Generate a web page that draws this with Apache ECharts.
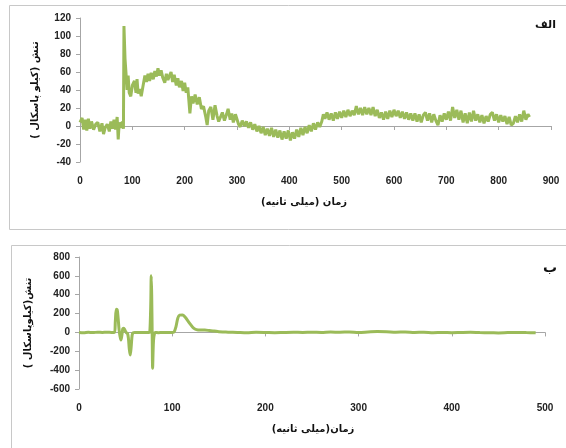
<!DOCTYPE html>
<html>
<head>
<meta charset="utf-8">
<script src="https://cdn.jsdelivr.net/npm/echarts@6/dist/echarts.min.js"></script>
<style>html,body{margin:0;padding:0;background:#fff}#c{width:566px;height:448px}</style>
</head>
<body>
<div id="c"></div>
<script>
// Panel A (top) : time in ms, stress in kPa
var timeA = [0,4,7,10,13,16,19,22,26,30,34,38,42,45,48,52,56,59,62,65,68,71,73,75,78,81,83,84,86,88,90,92,94,97,100,104,107,109,111,114,117,120,124,127,130,133,136,140,143,146,149,152,155,158,162,165,168,171,174,177,180,184,187,190,194,197,200,203,206,210,213,216,220,224,228,232,236,240,243,246,250,254,258,262,265,268,272,276,280,283,287,290,293,297,300,303,306,310,314,318,322,326,330,334,338,342,346,350,354,358,362,366,370,374,378,382,386,390,394,398,402,406,410,414,418,422,426,430,434,438,442,446,450,454,458,462,465,468,472,476,480,484,488,492,496,500,504,508,512,516,520,524,528,532,536,540,544,548,552,556,560,564,568,572,576,580,584,588,592,596,600,604,608,612,616,620,624,628,632,636,640,644,648,652,656,660,664,668,672,676,680,684,688,692,696,700,704,708,712,716,720,724,728,732,736,740,744,748,752,756,760,764,768,772,776,780,784,788,792,796,800,804,808,812,816,820,824,828,832,836,840,844,848,852,856,859];
var stressA = [4,9,-4,7,-5,8,-3,5,-4,2,4,-6,3,-9,-2,2,-6,5,-3,7,-4,10,-15,4,-2,5,-3,111,75,58,40,56,37,33,45,50,37,52,36,41,33,43,56,49,58,50,59,52,61,55,64,56,62,54,48,58,51,56,60,49,57,45,53,43,50,39,48,37,43,14,33,25,35,24,32,19,22,11,1,17,21,7,23,11,5,3,15,6,13,19,7,14,4,13,11,2,-1,6,0,5,-2,4,-4,2,-6,0,-8,-1,-10,-3,-11,-2,-12,-4,-13,-5,-15,-6,-14,-5,-16,-7,-14,-4,-12,-2,-10,-1,-8,1,-6,3,-4,4,-1,5,13,8,15,7,14,6,15,8,16,9,17,10,18,11,17,12,22,13,20,12,21,13,20,12,21,11,18,9,15,7,16,8,17,10,18,11,17,9,16,8,15,7,14,6,14,5,13,4,12,15,6,14,4,13,6,1,12,5,14,7,16,6,21,9,18,7,17,4,14,3,15,5,17,6,13,4,12,3,11,5,13,15,6,13,4,12,5,11,2,10,1,3,11,4,13,5,17,7,13,10];
var ticksA_x = {min: 0, max: 900, interval: 100};
var ticksA_y = {min: -40, max: 120, interval: 20};

// Panel B (bottom)
var timeB = [0,5,10,15,20,25,30,35,38,39,40,41,42,43,44,45,46,47,48,49,50,51,52,53,54,55,56,57,58,60,65,70,75,76,77,77.5,78,78.5,79,79.5,80,81,82,85,90,95,100,102,104,106,108,111,114,117,120,123,126,130,135,140,145,150,155,160,170,180,190,200,210,220,230,240,250,260,270,280,290,300,310,320,330,340,350,360,370,380,390,400,410,420,430,440,450,460,470,480,490];
var stressB = [0,-3,2,-2,3,0,2,0,2,120,245,240,150,30,-40,-80,-30,40,45,30,10,-5,-10,-60,-180,-240,-150,-30,-5,0,-2,0,0,5,300,600,400,0,-380,-200,-80,-10,0,-3,0,-2,0,5,60,150,183,185,160,120,80,45,30,25,25,20,15,8,5,3,0,-3,2,0,-3,0,2,0,3,0,4,2,5,0,5,10,8,3,5,0,3,-3,0,-3,0,2,-2,-4,-5,-2,0,-2,-3];
var ticksB_x = {min: 0, max: 500, interval: 100};
var ticksB_y = {min: -600, max: 800, interval: 200};

var titleX_A = '\u200Fزمان (میلی ثانیه)\u200F';
var titleY_A = '\u200Fتنش (کیلو پاسکال )\u200F';
var titleX_B = '\u200Fزمان(میلی ثانیه)\u200F';
var titleY_B = '\u200Fتنش(کیلوپاسکال )\u200F';
var panelA = 'الف';
var panelB = 'ب';

function pairs(t, v){ return t.map(function(x,i){ return [x, v[i]]; }); }

var GREEN = '#9BBB59';
var AXIS = '#a6a6a6';
var numFont = {fontFamily: 'Liberation Sans', fontWeight: 'bold', fontSize: 10, color: '#222'};
var faFont = 'DejaVu Sans';

function labelAxis(grid, t){
  return {type:'value', gridIndex:grid, min:t.min, max:t.max, interval:t.interval, position:'bottom',
    axisLine:{show:false, onZero:false}, axisTick:{show:false}, splitLine:{show:false},
    axisLabel:Object.assign({margin:14}, numFont)};
}
function lineAxis(grid, t){
  return {type:'value', gridIndex:grid, min:t.min, max:t.max, interval:t.interval, position:'bottom',
    axisLine:{show:true, onZero:true, lineStyle:{color:AXIS, width:1}},
    axisTick:{show:true, length:4, lineStyle:{color:AXIS}}, splitLine:{show:false}, axisLabel:{show:false}};
}
function yAx(grid, t, name, gap){
  return {type:'value', gridIndex:grid, min:t.min, max:t.max, interval:t.interval,
    name:name, nameLocation:'middle', nameGap:gap, nameRotate:90,
    nameTextStyle:{fontFamily:faFont, fontWeight:'bold', fontSize:10, color:'#111'},
    axisLine:{show:true, lineStyle:{color:AXIS, width:1}},
    axisTick:{show:true, length:4, lineStyle:{color:AXIS}}, splitLine:{show:false},
    axisLabel:Object.assign({margin:9}, numFont)};
}

var chart = echarts.init(document.getElementById('c'), null, {renderer:'canvas'});
chart.setOption({
  animation:false,
  backgroundColor:'#fff',
  grid:[
    {left:80, top:18, width:471, height:144},
    {left:79, top:257, width:466, height:132}
  ],
  xAxis:[labelAxis(0,ticksA_x), lineAxis(0,ticksA_x), labelAxis(1,ticksB_x), lineAxis(1,ticksB_x)],
  yAxis:[yAx(0,ticksA_y,titleY_A,40), yAx(1,ticksB_y,titleY_B,46)],
  series:[
    {type:'line', xAxisIndex:0, yAxisIndex:0, data:pairs(timeA,stressA), showSymbol:false,
     lineStyle:{color:GREEN, width:3}, itemStyle:{color:GREEN}},
    {type:'line', xAxisIndex:2, yAxisIndex:1, data:pairs(timeB,stressB), showSymbol:false, smooth:0.3,
     lineStyle:{color:GREEN, width:3}, itemStyle:{color:GREEN}}
  ],
  graphic:[
    {type:'rect', shape:{x:9.5, y:5.5, width:700, height:224}, style:{fill:'none', stroke:'#c8c8c8', lineWidth:1}, z:-1},
    {type:'rect', shape:{x:11.5, y:245.5, width:700, height:400}, style:{fill:'none', stroke:'#c8c8c8', lineWidth:1}, z:-1},
    {type:'text', x:556, y:25, style:{text:panelA, font:'bold 11px "DejaVu Sans"', fill:'#111', textAlign:'right', textVerticalAlign:'middle'}},
    {type:'text', x:557, y:268, style:{text:panelB, font:'bold 14px "DejaVu Sans"', fill:'#111', textAlign:'right', textVerticalAlign:'middle'}},
    {type:'text', x:304, y:202, style:{text:titleX_A, font:'bold 10px "DejaVu Sans"', fill:'#111', textAlign:'center', textVerticalAlign:'middle'}},
    {type:'text', x:313, y:429, style:{text:titleX_B, font:'bold 10px "DejaVu Sans"', fill:'#111', textAlign:'center', textVerticalAlign:'middle'}}
  ]
});
</script>
</body>
</html>
